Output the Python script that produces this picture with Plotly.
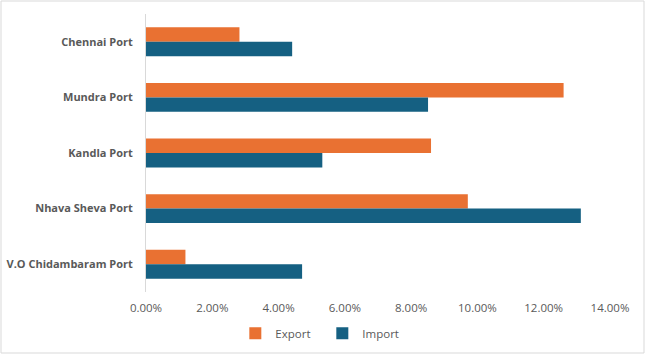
import plotly.graph_objects as go

ports = ["Chennai Port", "Mundra Port", "Kandla Port", "Nhava Sheva Port", "V.O Chidambaram Port"]
export_vals = [0.0282, 0.1260, 0.0860, 0.0971, 0.0119]
import_vals = [0.0441, 0.0851, 0.0532, 0.1312, 0.0471]
tick_vals = [0, 0.02, 0.04, 0.06, 0.08, 0.10, 0.12, 0.14]
tick_text = ["0.00%", "2.00%", "4.00%", "6.00%", "8.00%", "10.00%", "12.00%", "14.00%"]

W, H = 648, 360
ml, mr, mt, mb = 146, 38, 14, 68
pw, ph = W - ml - mr, H - mt - mb

fig = go.Figure()
fig.add_trace(go.Bar(y=ports, x=export_vals, name="Export", orientation="h",
                     marker=dict(color="#E97132", line=dict(width=0))))
fig.add_trace(go.Bar(y=ports, x=import_vals, name="Import", orientation="h",
                     marker=dict(color="#156082", line=dict(width=0))))

font_fam = "Open Sans, Liberation Sans, sans-serif"
fig.update_layout(
    width=W, height=H,
    margin=dict(l=ml, r=mr, t=mt, b=mb, autoexpand=False),
    paper_bgcolor="white", plot_bgcolor="white",
    barmode="group", bargap=0.48, bargroupgap=0,
    font=dict(family=font_fam, color="#595959", size=11),
    legend=dict(orientation="h", x=0.38, xanchor="center", y=-0.148, yanchor="middle",
                font=dict(size=11.5, color="#595959"), itemwidth=30, entrywidth=42,
                tracegroupgap=0, bgcolor="rgba(0,0,0,0)"),
    showlegend=True,
)
fig.update_xaxes(range=[0, 0.14], tickvals=tick_vals, ticktext=tick_text,
                 showgrid=False, zeroline=False, showline=False, ticks="",
                 tickfont=dict(size=11.5, color="#595959"), ticklabelstandoff=7,
                 automargin=False)
fig.update_yaxes(autorange="reversed", showgrid=False, zeroline=False,
                 showline=True, linecolor="#d9d9d9", linewidth=1, ticks="",
                 tickfont=dict(size=11, color="#595959", weight="bold"),
                 ticklabelstandoff=10, automargin=False)

# outer chart border
fig.add_shape(type="rect", xref="paper", yref="paper",
              x0=(1 - ml) / pw, x1=(644 - ml) / pw,
              y0=(H - mb - 353) / ph, y1=(H - mb - 1) / ph,
              line=dict(color="#d9d9d9", width=1), fillcolor="rgba(0,0,0,0)", layer="below")

fig.write_html("out.html", config={"displayModeBar": False},
               post_script="document.body.style.margin='0';document.body.style.overflow='hidden';")
